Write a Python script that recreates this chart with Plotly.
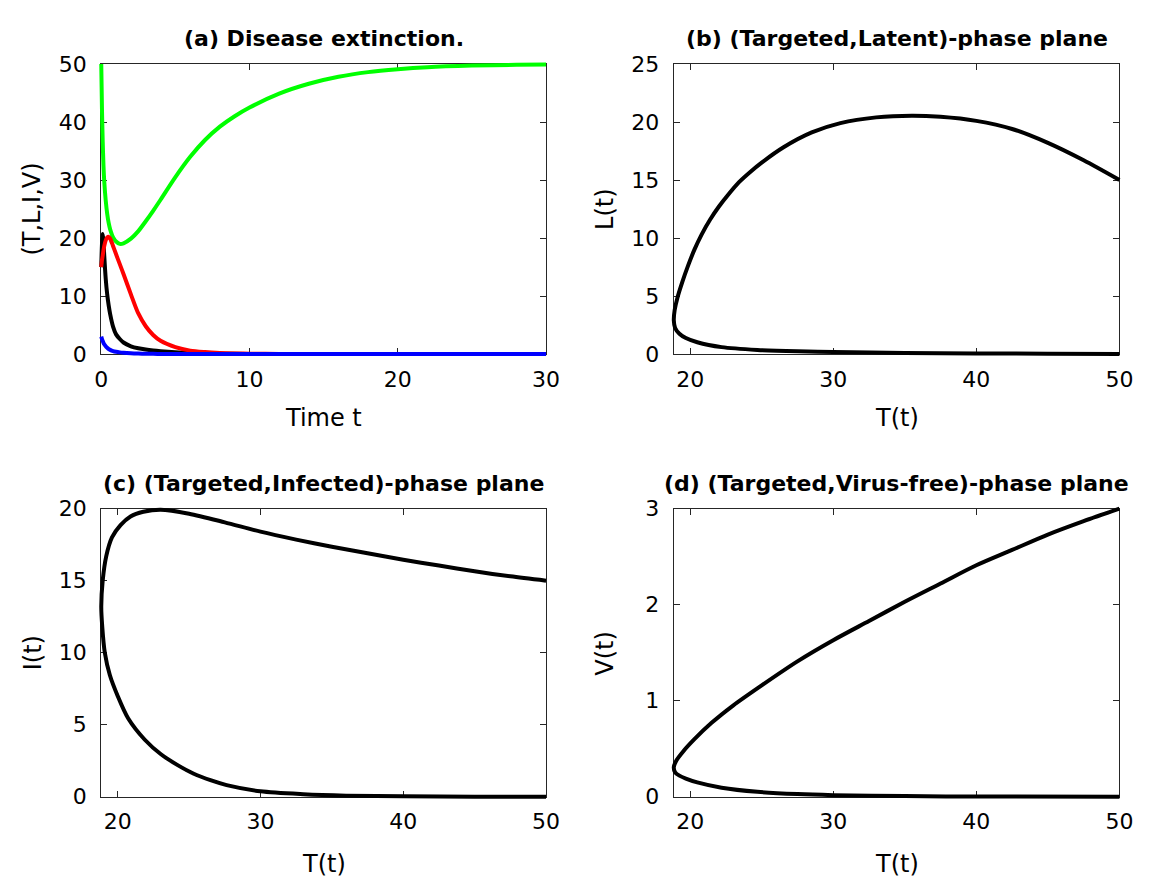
import plotly.graph_objects as go

# ---------------- data ----------------
# Panel (a): time series
t_a = [0, 0.05, 0.1, 0.15, 0.2, 0.3, 0.4, 0.5, 0.6, 0.8, 1.0, 1.25, 1.5, 2.0, 2.5, 3.0, 3.5,
       4.0, 5.0, 6.0, 7.0, 8.0, 9.0, 10, 12, 14, 16, 18, 20, 22, 25, 28, 30]
T_a = [50, 42, 36.5, 32.5, 29.8, 26.5, 24.2, 22.6, 21.5, 20.1, 19.4, 19.0, 19.1, 19.9, 21.2, 22.9, 24.7,
       26.6, 30.5, 34.0, 36.9, 39.2, 41.0, 42.5, 44.9, 46.6, 47.8, 48.6, 49.1, 49.45, 49.72, 49.86, 49.9]
L_a = [15.0, 19.0, 20.7, 19.5, 17.0, 13.0, 10.3, 8.4, 6.9, 4.7, 3.4, 2.6, 2.0, 1.35, 1.0, 0.78, 0.62,
       0.5, 0.32, 0.2, 0.13, 0.08, 0.05, 0.03, 0.01, 0, 0, 0, 0, 0, 0, 0, 0]
I_a = [15.0, 16.2, 17.0, 17.9, 18.6, 19.6, 20.1, 20.2, 19.9, 18.6, 17.2, 15.5, 13.8, 10.3, 7.0, 4.8, 3.3,
       2.3, 1.2, 0.6, 0.35, 0.2, 0.12, 0.07, 0.02, 0, 0, 0, 0, 0, 0, 0, 0]
V_a = [3.0, 2.6, 2.25, 1.95, 1.7, 1.35, 1.08, 0.88, 0.73, 0.52, 0.4, 0.3, 0.23, 0.14, 0.09, 0.06, 0.04,
       0.03, 0.015, 0.008, 0.004, 0.002, 0.001, 0, 0, 0, 0, 0, 0, 0, 0, 0, 0]

# Panel (b): (T, L) phase plane
T_b = [50, 47.5, 45, 42.5, 40, 37.5, 35.5, 33, 30.5, 28.5, 26.5, 25, 24.2, 23.4, 22.7, 22.0, 21.4, 20.8,
       20.3, 19.85, 19.45, 19.1, 18.92, 18.86, 18.95, 19.25, 19.7, 20.5, 22.2, 24.7, 27.5, 30, 35, 40, 45, 50]
L_b = [15.0, 16.7, 18.2, 19.4, 20.1, 20.45, 20.55, 20.4, 19.9, 19.1, 17.8, 16.5, 15.7, 14.8, 13.8, 12.7, 11.6, 10.3,
       9.0, 7.6, 6.2, 4.8, 3.8, 2.9, 2.25, 1.75, 1.38, 1.02, 0.6, 0.36, 0.24, 0.18, 0.1, 0.06, 0.03, 0.01]

# Panel (c): (T, I) phase plane
T_c = [50, 47.5, 45, 42.5, 40, 37.5, 35, 32.5, 30, 27.5, 25, 23.0, 21.8, 20.9, 20.2, 19.6, 19.2, 18.95, 18.85,
       18.92, 19.1, 19.45, 20.0, 20.73, 21.9, 23.03, 24.2, 25.33, 26.5, 27.63, 30, 33, 36, 40, 45, 50]
I_c = [15.0, 15.3, 15.65, 16.05, 16.45, 16.9, 17.35, 17.85, 18.4, 19.05, 19.65, 19.93, 19.78, 19.45, 18.85, 18.0, 16.7, 15.0, 13.2,
       11.8, 10.0, 8.45, 7.0, 5.45, 3.96, 2.95, 2.2, 1.6, 1.15, 0.81, 0.38, 0.18, 0.08, 0.03, 0.01, 0.0]

# Panel (d): (T, V) phase plane
T_d = [50, 47.5, 45, 42.5, 40, 37.5, 35, 32.5, 30, 27.5, 25, 23, 21.5, 20.3, 19.5, 19.05, 18.86,
       18.95, 19.25, 19.7, 20.5, 22.2, 24.7, 27.5, 30, 35, 40, 50]
V_d = [3.0, 2.87, 2.73, 2.57, 2.41, 2.22, 2.03, 1.83, 1.63, 1.41, 1.16, 0.95, 0.77, 0.60, 0.47, 0.38, 0.31,
       0.255, 0.22, 0.19, 0.15, 0.095, 0.052, 0.028, 0.017, 0.007, 0.003, 0.0]

titles = ["(a) Disease extinction.", "(b) (Targeted,Latent)-phase plane",
          "(c) (Targeted,Infected)-phase plane", "(d) (Targeted,Virus-free)-phase plane"]
xlabels = ["Time t", "T(t)", "T(t)", "T(t)"]
ylabels = ["(T,L,I,V)", "L(t)", "I(t)", "V(t)"]
xranges = [[0, 30], [18.85, 50], [18.85, 50], [18.85, 50]]
yranges = [[0, 50], [0, 25], [0, 20], [0, 3]]
xticks = [[0, 10, 20, 30], [20, 30, 40, 50], [20, 30, 40, 50], [20, 30, 40, 50]]
yticks = [[0, 10, 20, 30, 40, 50], [0, 5, 10, 15, 20, 25], [0, 5, 10, 15, 20], [0, 1, 2, 3]]

# ---------------- styling ----------------
FONT = "DejaVu Sans, Arial, sans-serif"
W, H = 1157, 889
LW = 4
PAD = 6  # px, lets curves on the box edges show at full width

# panel geometry in pixels (left, right) / (top, bottom)
cols = [(96, 549), (679, 1133)]
rows = [(53.5, 352), (511, 807.5)]

fig = go.Figure()

# empty traces so that the visible (box) subplots exist
for k in range(4):
    s = "" if k == 0 else str(k + 1)
    fig.add_trace(go.Scatter(x=[], y=[], xaxis="x" + s, yaxis="y" + s, showlegend=False))

def line(x, y, color, k):
    fig.add_trace(go.Scatter(x=x, y=y, mode="lines", xaxis="x" + str(k + 5), yaxis="y" + str(k + 5),
                             line=dict(color=color, width=LW, shape="spline", smoothing=0.8),
                             showlegend=False, hoverinfo="skip"))

line(t_a, T_a, "#00FF00", 0)
line(t_a, L_a, "#000000", 0)
line(t_a, I_a, "#FF0000", 0)
line(t_a, V_a, "#0000FF", 0)
line(T_b, L_b, "#000000", 1)
line(T_c, I_c, "#000000", 2)
line(T_d, V_d, "#000000", 3)

ax = dict(showline=True, linecolor="#262626", linewidth=1, mirror="ticks", ticks="inside",
          ticklen=6, tickcolor="#262626", showgrid=False, zeroline=False,
          tickfont=dict(size=22, color="black", family=FONT), fixedrange=True)

layout = dict(
    width=W, height=H, margin=dict(l=0, r=0, t=0, b=0),
    paper_bgcolor="white", plot_bgcolor="rgba(0,0,0,0)",
    font=dict(family=FONT, color="black"),
)

ann = []
title_y = [27, 485]
xlabel_y = [418, 877]
ylabel_x = [26, 609]
for k in range(4):
    r, c = divmod(k, 2)
    s = "" if k == 0 else str(k + 1)
    xl, xr = cols[c]
    yt, yb = rows[r]
    layout["xaxis" + s] = dict(ax, domain=[xl / W, xr / W], range=xranges[k], tickvals=xticks[k],
                               anchor="y" + s, ticklabelstandoff=5)
    layout["yaxis" + s] = dict(ax, domain=[1 - yb / H, 1 - yt / H], range=yranges[k], tickvals=yticks[k],
                               anchor="x" + s, ticklabelstandoff=9)
    # hidden data axes: same scale, slightly larger box (no clipping at the frame)
    sx = (xranges[k][1] - xranges[k][0]) / (xr - xl)
    sy = (yranges[k][1] - yranges[k][0]) / (yb - yt)
    d = str(k + 5)
    layout["xaxis" + d] = dict(visible=False, fixedrange=True, anchor="y" + d,
                               domain=[(xl - PAD) / W, (xr + PAD) / W],
                               range=[xranges[k][0] - PAD * sx, xranges[k][1] + PAD * sx])
    layout["yaxis" + d] = dict(visible=False, fixedrange=True, anchor="x" + d,
                               domain=[1 - (yb + PAD) / H, 1 - (yt - PAD) / H],
                               range=[yranges[k][0] - PAD * sy, yranges[k][1] + PAD * sy])

    cx = (xl + xr) / 2 / W
    ann.append(dict(text="<b>" + titles[k] + "</b>", x=cx, y=1 - title_y[r] / H, xref="paper", yref="paper",
                    xanchor="center", yanchor="middle", showarrow=False,
                    font=dict(size=22, family=FONT, color="black")))
    ann.append(dict(text=xlabels[k], x=cx, y=1 - xlabel_y[r] / H, xref="paper", yref="paper",
                    xanchor="center", yanchor="middle", showarrow=False,
                    font=dict(size=24, family=FONT, color="black")))
    cy = 1 - (yt + yb) / 2 / H
    ann.append(dict(text=ylabels[k], x=ylabel_x[c] / W, y=cy, xref="paper", yref="paper",
                    xanchor="center", yanchor="middle", showarrow=False, textangle=-90,
                    font=dict(size=24, family=FONT, color="black")))
layout["annotations"] = ann

fig.update_layout(**layout)
fig.write_html("out.html")
